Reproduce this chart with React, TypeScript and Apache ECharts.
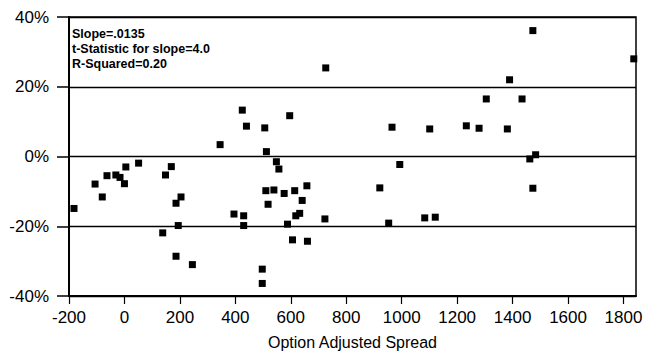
import React, { useEffect, useRef } from "react";
import * as echarts from "echarts";

const spreadValues = [
  -182, -106, -80, -63, -31, -16, 0, 5, 51, 148, 169, 186, 204, 194, 138, 186, 245,
  345, 726, 425, 596, 440, 506, 512, 965, 548, 557, 993, 510, 539, 576, 614, 658, 641,
  518, 921, 395, 430, 618, 632, 723, 430, 588, 953, 606, 660, 497, 497,
  1473, 1837, 1389, 1305, 1434, 1101, 1233, 1279, 1381, 1483, 1462, 1473, 1083, 1121,
];
const returnValues = [
  -14.9, -7.9, -11.6, -5.5, -5.3, -6.0, -7.8, -3.0, -1.9, -5.3, -2.9, -13.4, -11.6, -19.8, -21.9, -28.6, -31.0,
  3.4, 25.4, 13.3, 11.7, 8.7, 8.2, 1.4, 8.4, -1.5, -3.6, -2.3, -9.8, -9.6, -10.6, -9.8, -8.4, -12.6,
  -13.7, -9.0, -16.5, -17.0, -17.0, -16.3, -17.9, -19.8, -19.4, -19.1, -23.9, -24.3, -32.3, -36.4,
  36.1, 28.0, 22.0, 16.5, 16.5, 7.9, 8.8, 8.1, 7.9, 0.5, -0.7, -9.1, -17.6, -17.4,
];
const xTickValues = [-200, 0, 200, 400, 600, 800, 1000, 1200, 1400, 1600, 1800];
const statLines = ["Slope=.0135", "t-Statistic for slope=4.0", "R-Squared=0.20"];
const xAxisTitle = "Option Adjusted Spread";

const FONT = "'Liberation Sans', Arial, Helvetica, sans-serif";

export default function App() {
  const ref = useRef<HTMLDivElement>(null);
  useEffect(() => {
    if (!ref.current) return;
    const chart = echarts.init(ref.current, undefined, { renderer: "svg" });
    const data = spreadValues.map((x, i) => [x, returnValues[i]]);
    chart.setOption({
      animation: false,
      backgroundColor: "#fff",
      grid: {
        left: 69,
        right: 9,
        top: 17,
        bottom: 56,
        outerBoundsMode: "none",
        containLabel: false,
        show: true,
        borderColor: "#000",
        borderWidth: 1.5,
        backgroundColor: "transparent",
      },
      xAxis: {
        type: "value",
        min: -200,
        max: 1845,
        interval: 200,
        name: xAxisTitle,
        nameLocation: "middle",
        nameGap: 38,
        nameTextStyle: { color: "#000", fontSize: 16, fontFamily: FONT },
        axisLine: { show: true, onZero: false, lineStyle: { color: "#000", width: 2 } },
        axisTick: { show: true, length: 8, lineStyle: { color: "#000", width: 1.2 }, customValues: xTickValues },
        axisLabel: {
          color: "#000",
          fontSize: 17,
          fontFamily: FONT,
          margin: 13,
          customValues: xTickValues,
          formatter: (v: number) => String(v),
        },
        splitLine: { show: false },
      },
      yAxis: {
        type: "value",
        min: -40,
        max: 40,
        interval: 20,
        axisLine: { show: true, onZero: false, lineStyle: { color: "#000", width: 2 } },
        axisTick: { show: true, length: 12, lineStyle: { color: "#000", width: 1.5 } },
        axisLabel: {
          color: "#000",
          fontSize: 17,
          fontFamily: FONT,
          margin: 20,
          formatter: (v: number) => `${v}%`,
        },
        splitLine: { show: true, lineStyle: { color: "#000", width: 1.3 } },
      },
      graphic: [
        {
          type: "text",
          left: 72,
          top: 26,
          style: {
            text: statLines.join("\n"),
            fill: "#000",
            fontSize: 12.5,
            fontWeight: "bold",
            lineHeight: 15,
            fontFamily: FONT,
          },
        },
      ],
      series: [
        {
          type: "scatter",
          data,
          symbol: "rect",
          symbolSize: 7,
          itemStyle: { color: "#000", opacity: 1 },
        },
      ],
    });
    return () => chart.dispose();
  }, []);
  return (
    <div
      ref={ref}
      style={{ position: "fixed", left: 0, top: 0, width: 645, height: 352, background: "#fff" }}
    />
  );
}
